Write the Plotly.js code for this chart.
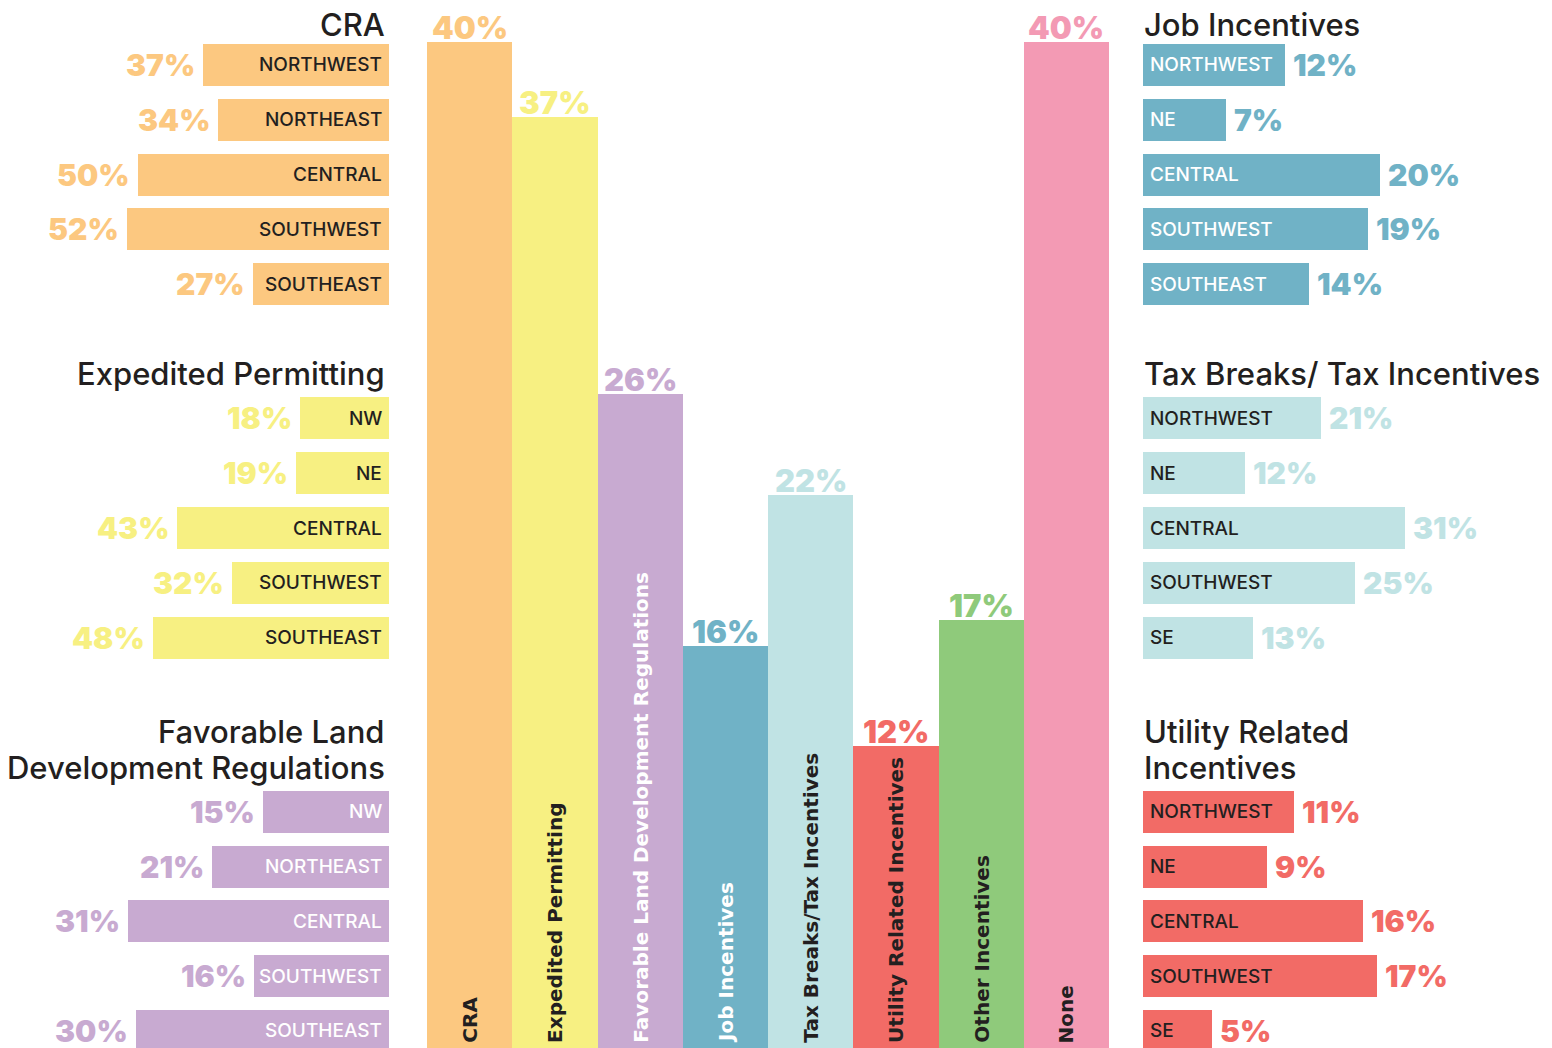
<!DOCTYPE html>
<html><head><meta charset="utf-8">
<script src="https://cdn.plot.ly/plotly-3.0.1.min.js"></script>
<style>html,body{margin:0;padding:0;background:#fff;} #chart{width:1552px;height:1048px;}</style>
</head><body><div id="chart"></div>
<script>
// ---------- DATA ----------
const categories = ['CRA','Expedited Permitting','Favorable Land Development Regulations','Job Incentives','Tax Breaks/Tax Incentives','Utility Related Incentives','Other Incentives','None'];
const overallValues = [40,37,26,16,22,12,17,40];
const regions = ['Northwest','Northeast','Central','Southwest','Southeast'];

const craValues = [37,34,50,52,27];
const craLabels = ['NORTHWEST','NORTHEAST','CENTRAL','SOUTHWEST','SOUTHEAST'];
const expValues = [18,19,43,32,48];
const expLabels = ['NW','NE','CENTRAL','SOUTHWEST','SOUTHEAST'];
const favValues = [15,21,31,16,30];
const favLabels = ['NW','NORTHEAST','CENTRAL','SOUTHWEST','SOUTHEAST'];
const jobValues = [12,7,20,19,14];
const jobLabels = ['NORTHWEST','NE','CENTRAL','SOUTHWEST','SOUTHEAST'];
const taxValues = [21,12,31,25,13];
const taxLabels = ['NORTHWEST','NE','CENTRAL','SOUTHWEST','SE'];
const utilValues = [11,9,16,17,5];
const utilLabels = ['NORTHWEST','NE','CENTRAL','SOUTHWEST','SE'];

// ---------- STYLE ----------
const W = 1552, H = 1048;
const DARK = '#231f20';
const FONT = 'Inter';
const barColors = ['#fcc880','#f7f082','#c8aad1','#70b2c6','#c0e3e4','#f26b66','#8fca7b','#f39ab4'];
const catLabelColors = [DARK, DARK, '#ffffff', '#ffffff', DARK, DARK, DARK, DARK];

const rowDomains = [[1-311.6/H, 1-37.6/H],[1-665.4/H, 1-390.6/H],[0, 1-784.6/H]];
const rowRanges = [[4.5,-0.5],[4.5,-0.5],[-0.5+263.4/54.75,-0.5]];
const titleY = [[24],[374],[731,767]];

const panels = [
  {title:['CRA'], values:craValues, labels:craLabels, color:barColors[0], labelColor:DARK, side:'left', row:0, max:389/5.03},
  {title:['Expedited Permitting'], values:expValues, labels:expLabels, color:barColors[1], labelColor:DARK, side:'left', row:1, max:389/4.92},
  {title:['Favorable Land','Development Regulations'], values:favValues, labels:favLabels, color:barColors[2], labelColor:'#ffffff', side:'left', row:2, max:389/8.43},
  {title:['Job Incentives'], values:jobValues, labels:jobLabels, color:barColors[3], labelColor:'#ffffff', side:'right', row:0, max:409/11.85},
  {title:['Tax Breaks/ Tax Incentives'], values:taxValues, labels:taxLabels, color:barColors[4], labelColor:DARK, side:'right', row:1, max:409/8.46},
  {title:['Utility Related','Incentives'], values:utilValues, labels:utilLabels, color:barColors[5], labelColor:DARK, side:'right', row:2, max:409/13.76}
];

const traces = [];
const annotations = [];
const layout = {
  width: W, height: H,
  margin: {l:0, r:0, t:0, b:0, pad:0},
  paper_bgcolor: '#ffffff', plot_bgcolor: 'rgba(0,0,0,0)',
  showlegend: false,
  font: {family: FONT, color: DARK},
  bargap: 0,
  xaxis: {domain:[427/W, 1109/W], type:'category', categoryarray:categories, range:[-0.5,7.5], visible:false, fixedrange:true},
  yaxis: {domain:[0,1], range:[0, H/25.15], visible:false, fixedrange:true},
  annotations: annotations
};

// central bar chart
traces.push({
  type:'bar', x:categories, y:overallValues, xaxis:'x', yaxis:'y', width:1,
  marker:{color:barColors, line:{width:0}}, hoverinfo:'skip'
});
categories.forEach((c, i) => {
  annotations.push({
    xref:'x', yref:'y', x:c, y:overallValues[i], text:overallValues[i] + '%', showarrow:false,
    xanchor:'center', yanchor:'bottom', yshift:-6,
    font:{family:FONT, size:31, weight:900, color:barColors[i]}
  });
  annotations.push({
    xref:'x', yref:'y', x:c, y:0, text:c, showarrow:false, textangle:-90,
    xanchor:'center', yanchor:'bottom', yshift:3,
    font:{family:'DejaVu Sans', size:20, weight:700, color:catLabelColors[i]}
  });
});

// regional panels
panels.forEach((p, k) => {
  const n = k + 2;
  const left = p.side === 'left';
  layout['xaxis'+n] = {domain: left ? [0, 389/W] : [1143/W, 1], range: left ? [p.max, 0] : [0, p.max], visible:false, fixedrange:true, anchor:'y'+n};
  layout['yaxis'+n] = {domain: rowDomains[p.row], range: rowRanges[p.row], type:'category', categoryarray:regions, visible:false, fixedrange:true, anchor:'x'+n};
  traces.push({
    type:'bar', orientation:'h', x:p.values, y:regions, xaxis:'x'+n, yaxis:'y'+n, width:0.767,
    marker:{color:p.color, line:{width:0}}, hoverinfo:'skip'
  });
  p.values.forEach((v, j) => {
    annotations.push({
      xref:'x'+n, yref:'y'+n, x:v, y:regions[j], text:v+'%', showarrow:false,
      xanchor: left ? 'right' : 'left', xshift: left ? -6 : 6, yanchor:'middle',
      font:{family:FONT, size:30, weight:900, color:p.color}
    });
    annotations.push({
      xref:'x'+n, yref:'y'+n, x:0, y:regions[j], text:p.labels[j], showarrow:false,
      xanchor: left ? 'right' : 'left', xshift: left ? -5 : 5, yanchor:'middle',
      font:{family:FONT, size:19, weight:500, color:p.labelColor}
    });
  });
  p.title.forEach((t, li) => {
    annotations.push({
      xref:'paper', yref:'paper', x: left ? 387/W : 1142/W, y: 1 - titleY[p.row][li]/H,
      text:t, showarrow:false, xanchor: left ? 'right' : 'left', yanchor:'middle',
      font:{family:FONT, size:31, weight:500, color:DARK}
    });
  });
});

Plotly.newPlot('chart', traces, layout, {staticPlot:true, displayModeBar:false});
</script>
</body></html>
